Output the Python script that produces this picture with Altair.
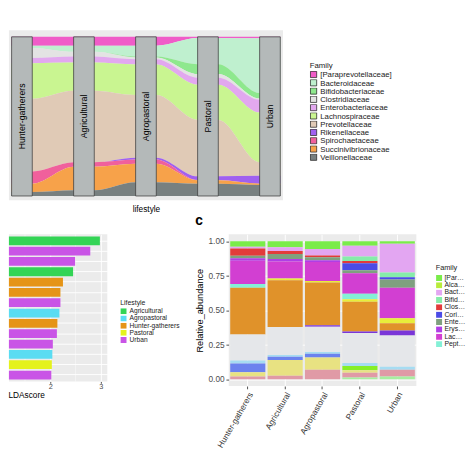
import altair as alt
import pandas as pd

# ---------------- Panel a : alluvial of family abundance by lifestyle ----------------
lifestyles = ["Hunter-gatherers", "Agricultural", "Agropastoral", "Pastoral", "Urban"]
families_a = ["[Paraprevotellaceae]", "Bacteroidaceae", "Bifidobacteriaceae", "Clostridiaceae",
              "Enterobacteriaceae", "Lachnospiraceae", "Prevotellaceae", "Rikenellaceae",
              "Spirochaetaceae", "Succinivibrionaceae", "Veillonellaceae"]
colors_a = ["#f05cc8", "#bff0cf", "#8ee88e", "#e3e3e3", "#e2a8ef", "#c9f591",
            "#e0cab6", "#a060f0", "#f0609c", "#f7a24a", "#788080"]
# relative abundance (%) in order of families_a
a_hunter = [5.59, 1.35, 0.0, 6.36, 3.28, 22.35, 45.66, 0.0, 7.71, 5.20, 2.50]
a_agricultural = [5.59, 3.85, 0.0, 2.89, 3.85, 17.73, 44.89, 0.0, 2.89, 14.64, 3.66]
a_agropastoral = [5.59, 6.74, 0.58, 1.16, 3.28, 19.27, 39.31, 1.16, 2.70, 11.56, 8.67]
a_pastoral = [0.77, 16.38, 6.17, 2.31, 4.43, 22.16, 35.45, 2.31, 0.19, 2.12, 7.71]
a_urban = [0.96, 34.30, 3.47, 0.77, 8.09, 31.21, 8.48, 5.01, 0.0, 0.77, 6.94]

# ---------------- Panel b : LDA scores ----------------
lda_scores = [2.98, 2.79, 2.49, 2.45, 2.25, 2.20, 2.20, 2.18, 2.14, 2.13, 2.05, 2.04, 2.03, 2.02]
lda_lifestyle = ["Agricultural", "Urban", "Urban", "Agricultural", "Hunter-gatherers",
                 "Hunter-gatherers", "Urban", "Agropastoral", "Hunter-gatherers", "Urban",
                 "Urban", "Agropastoral", "Pastoral", "Urban"]
lifestyle_legend = ["Agricultural", "Agropastoral", "Hunter-gatherers", "Pastoral", "Urban"]
lifestyle_colors = ["#33d455", "#5adcf2", "#e59417", "#e4f21c", "#c954e6"]
lda_ticks = [2, 3]
lda_minor = [1.5, 2.5]

# ---------------- Panel c : stacked relative abundance ----------------
families_c = ["[Paraprevotellaceae]", "Alcaligenaceae", "Bacteroidaceae", "Bifidobacteriaceae",
              "Clostridiaceae", "Coriobacteriaceae", "Enterobacteriaceae", "Erysipelotrichaceae",
              "Lachnospiraceae", "Peptostreptococcaceae", "Porphyromonadaceae", "Prevotellaceae",
              "Rikenellaceae", "Ruminococcaceae", "S24-7", "Spirochaetaceae",
              "Streptococcaceae", "Succinivibrionaceae", "Veillonellaceae", "Victivallaceae"]
colors_c = ["#7aec4a", "#b8ec3a", "#e3a6f2", "#86ecaa", "#e23b3b", "#4b4be6", "#7fa07f",
            "#b03ee6", "#d23fd2", "#84f0d6", "#e8ee3a", "#e0922a", "#7a36d8", "#e5e7ea",
            "#a6dcf2", "#86ee28", "#6c82ee", "#e8e282", "#e09aa6", "#a8eea0"]
c_hunter = [0.040, 0, 0.013, 0, 0.053, 0, 0.018, 0.018, 0.169, 0.027,
            0, 0.340, 0, 0.189, 0.022, 0, 0.062, 0.031, 0.020, 0]
c_agricultural = [0.044, 0, 0.027, 0, 0.022, 0, 0.036, 0.018, 0.124, 0,
                  0.013, 0.338, 0, 0.204, 0.013, 0, 0.022, 0.116, 0.024, 0]
c_agropastoral = [0.056, 0, 0.047, 0, 0.013, 0, 0.022, 0.013, 0.138, 0,
                  0.011, 0.311, 0.011, 0.182, 0.013, 0, 0.027, 0.089, 0.069, 0]
c_pastoral = [0.033, 0, 0.078, 0.033, 0.016, 0.051, 0.022, 0, 0.149, 0.040,
              0.018, 0.216, 0.011, 0.218, 0.022, 0.031, 0, 0.018, 0.033, 0.013]
c_urban = [0.018, 0, 0.209, 0.036, 0, 0.016, 0.060, 0, 0.222, 0,
           0.036, 0.053, 0.036, 0.227, 0.022, 0, 0, 0, 0.049, 0.020]
abund_ticks = [0, 0.25, 0.5, 0.75, 1.0]

# ================= build panel a =================
a_vals = dict(zip(lifestyles, [a_hunter, a_agricultural, a_agropastoral, a_pastoral, a_urban]))
rows = []
for i, ls in enumerate(lifestyles):
    for j, fam in enumerate(families_a):
        for side in (-1, 1):
            rows.append({"lifestyle": ls, "pos": i + 1, "side": side, "Family": fam,
                         "fidx": j, "abundance": a_vals[ls][j]})
df_a = pd.DataFrame(rows)
df_box = pd.DataFrame({"lifestyle": lifestyles, "pos": list(range(1, len(lifestyles) + 1))})

xa_scale = alt.Scale(domain=[0.79, 5.21], nice=False, zero=False)
ya_scale = alt.Scale(domain=[-0.027, 1.042], nice=False, zero=False)
xa_axis = alt.Axis(title="lifestyle", labels=False, ticks=False, domain=False, grid=False,
                   titlePadding=5, titleFontSize=9, titleFontWeight="normal", titleColor="black")

flows = alt.Chart(df_a).transform_calculate(
    xpos="datum.pos + datum.side / 6"
).mark_area(interpolate="monotone").encode(
    x=alt.X("xpos:Q", scale=xa_scale, axis=xa_axis),
    y=alt.Y("abundance:Q", stack="normalize", scale=ya_scale, axis=None),
    color=alt.Color("Family:N", scale=alt.Scale(domain=families_a, range=colors_a),
                    legend=alt.Legend(title="Family", orient="none", legendX=327, legendY=34,
                                      symbolType="square", symbolSize=46, symbolStrokeColor="#222",
                                      symbolStrokeWidth=0.8, labelFontSize=8.5, titleFontSize=8.5,
                                      titleFontWeight="normal", titleColor="#222", labelColor="#222",
                                      clipHeight=7.4, rowPadding=-1.8, titlePadding=2,
                                      labelOffset=3)),
    order=alt.Order("fidx:Q", sort="descending"),
)
boxes = alt.Chart(df_box).transform_calculate(
    x1="datum.pos - 1/6", x2="datum.pos + 1/6", yb="0", yt="1"
).mark_rect(fill="#b4b9b9", stroke="#3a3a3a", strokeWidth=0.8).encode(
    x=alt.X("x1:Q", scale=xa_scale, axis=xa_axis), x2="x2:Q",
    y=alt.Y("yb:Q", scale=ya_scale, axis=None), y2="yt:Q",
)
box_labels = alt.Chart(df_box).transform_calculate(ymid="0.5").mark_text(
    angle=270, fontSize=9.5, color="black"
).encode(
    x=alt.X("pos:Q", scale=xa_scale, axis=xa_axis),
    y=alt.Y("ymid:Q", scale=ya_scale, axis=None),
    text="lifestyle:N",
)
panel_a = alt.layer(flows, boxes, box_labels).properties(width=298, height=185)

# ================= build panel b =================
df_b = pd.DataFrame({"rank": list(range(1, len(lda_scores) + 1)), "LDAscore": lda_scores,
                     "Lifestyle": lda_lifestyle})
xb_scale = alt.Scale(domain=[1.182, 3.127], nice=False)
xb_axis = alt.Axis(values=lda_ticks, format="d", title="LDAscore", titleAnchor="start",
                   titleAlign="left", titleX=-1, titleFontSize=9, titleFontWeight="normal",
                   titleColor="black", titlePadding=0, labelFontSize=8, labelColor="#4d4d4d",
                   labelPadding=0, tickSize=2, tickColor="#444", domain=False, grid=True,
                   gridColor="white", gridWidth=1)
minor_b = alt.Chart(pd.DataFrame({"v": lda_minor})).mark_rule(color="white", strokeWidth=0.5).encode(
    x=alt.X("v:Q", scale=xb_scale, axis=xb_axis)
)
bars_b = alt.Chart(df_b).mark_bar(clip=True).encode(
    x=alt.X("LDAscore:Q", scale=xb_scale, axis=xb_axis),
    y=alt.Y("rank:O", scale=alt.Scale(paddingInner=0.15, paddingOuter=0.2),
            axis=alt.Axis(labels=False, ticks=False, domain=False, title=None, grid=True,
                          gridColor="white", bandPosition=0.5)),
    color=alt.Color("Lifestyle:N", scale=alt.Scale(domain=lifestyle_legend, range=lifestyle_colors),
                    legend=alt.Legend(title="Lifestyle", orient="none", legendX=121, legendY=71,
                                      symbolType="square", symbolSize=42, symbolStrokeWidth=0,
                                      labelFontSize=7.2, titleFontSize=7.5, titleFontWeight="normal",
                                      titleColor="#222", labelColor="#222", clipHeight=6.5,
                                      rowPadding=-0.2, titlePadding=2, labelOffset=3)),
)
panel_b = alt.layer(minor_b, bars_b).properties(width=107, height=160)

# ================= build panel c =================
c_vals = dict(zip(lifestyles, [c_hunter, c_agricultural, c_agropastoral, c_pastoral, c_urban]))
rows = []
for ls in lifestyles:
    for j, fam in enumerate(families_c):
        rows.append({"lifestyle": ls, "Family": fam, "fidx": j, "abundance": c_vals[ls][j]})
df_c = pd.DataFrame(rows)

panel_c = alt.Chart(df_c).mark_bar().encode(
    x=alt.X("lifestyle:N", sort=lifestyles, scale=alt.Scale(paddingInner=0.06, paddingOuter=0.04),
            axis=alt.Axis(title=None, labelAngle=300, labelAlign="right", labelBaseline="top",
                          labelFontSize=9, labelColor="#333", tickSize=3, tickColor="#444",
                          domain=False, grid=True, gridColor="white", labelPadding=2)),
    y=alt.Y("abundance:Q", stack="normalize", scale=alt.Scale(domain=[-0.05, 1.05], nice=False),
            axis=alt.Axis(values=abund_ticks, labelExpr="format(datum.value, '.2f')",
                          title="Relative_abundance",
                          titleFontSize=10, titleFontWeight="normal", titleColor="black",
                          titlePadding=4, labelFontSize=9, labelColor="#4d4d4d", tickSize=3,
                          tickColor="#444", domain=False, grid=True, gridColor="white",
                          labelPadding=2)),
    color=alt.Color("Family:N", scale=alt.Scale(domain=families_c, range=colors_c),
                    legend=alt.Legend(title="Family", values=families_c[:10], orient="none",
                                      legendX=225, legendY=33, symbolType="square", symbolSize=42,
                                      symbolStrokeWidth=0, labelFontSize=7.5, titleFontSize=8,
                                      titleFontWeight="normal", titleColor="#222",
                                      labelColor="#222", clipHeight=6.8, rowPadding=0,
                                      titlePadding=3, labelOffset=2, labelLimit=23)),
    order=alt.Order("fidx:Q", sort="descending"),
).properties(width=204, height=165,
             title=alt.TitleParams("c", anchor="start", frame="bounds", fontSize=15,
                                   fontWeight="bold", color="black", offset=7))

bottom = alt.hconcat(panel_b, panel_c, spacing=16).resolve_scale(color="independent")
chart = alt.vconcat(panel_a, bottom, spacing=1).resolve_scale(color="independent").properties(
    padding={"left": 0, "top": 4, "right": 0, "bottom": 0}
).configure(
    font="Liberation Sans", style={"guide-label": {"ellipsis": ""}}
).configure_view(
    fill="#ebebeb", strokeWidth=0
)

chart.save("out.html", embed_options={"renderer": "svg", "actions": False})
